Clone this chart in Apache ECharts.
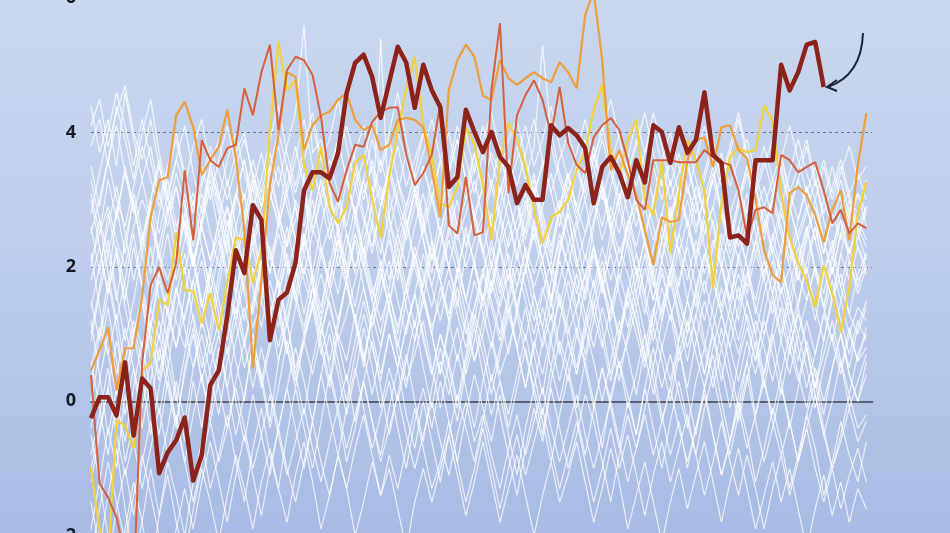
<!DOCTYPE html>
<html><head><meta charset="utf-8">
<script src="https://cdn.jsdelivr.net/npm/echarts@6/dist/echarts.min.js"></script>
<style>
html,body{margin:0;padding:0;overflow:hidden;width:950px;height:533px;}
body{background:linear-gradient(to bottom,#c9d8ef 0%,#bfcfec 45%,#a8bbe4 100%);position:relative;}
#c{position:absolute;left:0;top:-136px;width:950px;height:806px;}
</style>
</head><body><div id="c"></div>
<script>
// ---- data ----
const yMin = -4, yMax = 8, yStep = 2;
const highlightYear = [-0.25,0.06,0.06,-0.21,0.58,-0.51,0.34,0.19,-1.07,-0.76,-0.58,-0.24,-1.18,-0.80,0.24,0.46,1.28,2.25,1.91,2.92,2.70,0.91,1.51,1.62,2.06,3.14,3.41,3.41,3.32,3.70,4.59,5.04,5.16,4.83,4.22,4.75,5.28,5.04,4.37,5.01,4.63,4.38,3.19,3.34,4.34,4.01,3.71,4.01,3.64,3.49,2.95,3.22,3.00,3.00,4.11,3.96,4.07,3.96,3.77,2.95,3.49,3.64,3.40,3.04,3.59,3.26,4.11,4.01,3.55,4.08,3.70,3.89,4.60,3.67,3.55,2.44,2.47,2.35,3.59,3.59,3.59,5.01,4.63,4.90,5.31,5.35,4.68];
const redYear = [0.39,-1.22,-1.43,-1.73,-2.3,-2.8,0.57,1.73,2.0,1.61,2.06,3.44,2.40,3.89,3.59,3.49,3.77,3.82,4.66,4.26,4.90,5.31,4.04,4.93,5.13,5.08,4.86,4.23,3.25,2.97,3.44,3.82,3.79,4.16,4.31,4.37,4.38,3.67,3.22,3.40,3.67,4.44,2.62,2.50,3.34,2.47,2.52,4.63,5.63,3.10,4.26,4.56,4.78,4.49,3.96,4.68,3.85,3.52,3.40,3.93,4.11,4.22,4.04,3.59,3.00,2.85,3.59,3.59,3.59,3.56,3.56,3.56,3.74,3.64,3.56,3.52,3.14,2.44,2.85,2.89,2.80,3.67,3.59,3.41,3.49,3.56,3.14,2.65,2.85,2.50,2.65,2.58];
const orangeYear = [0.46,0.76,1.10,0.16,0.79,0.79,1.55,2.74,3.29,3.34,4.26,4.46,4.08,3.37,3.59,3.79,4.34,3.62,2.55,0.49,1.80,3.22,3.96,4.90,4.83,3.74,4.11,4.26,4.31,4.49,4.59,4.19,4.04,4.11,3.74,3.82,4.19,4.22,4.19,4.08,3.44,2.74,4.64,5.08,5.31,5.13,4.55,4.49,5.08,4.81,4.71,4.81,4.90,4.81,4.75,5.05,4.90,4.66,5.75,6.1,5.08,3.44,3.74,3.37,3.07,2.55,2.03,2.74,2.67,2.70,3.59,3.89,3.93,3.49,4.08,4.11,3.74,3.62,3.00,2.25,1.88,1.77,3.10,3.19,3.07,2.77,2.37,2.85,3.14,2.40,3.52,4.29];
const yellowYear = [-0.98,-1.92,-2.37,-0.28,-0.36,-0.70,0.46,0.57,1.51,1.43,2.52,1.65,1.65,1.16,1.61,1.06,1.76,2.44,2.40,1.76,2.25,4.04,5.35,4.63,4.78,3.52,3.14,3.79,2.89,2.65,2.89,3.55,3.67,3.00,2.44,3.34,4.04,4.66,5.13,4.11,3.64,2.95,2.89,3.19,4.08,3.82,3.22,2.40,3.59,4.14,3.89,3.49,2.85,2.35,2.74,2.82,3.00,3.44,3.74,4.34,4.71,3.74,3.37,3.89,4.19,3.00,2.77,3.59,2.21,3.10,3.89,3.59,3.14,1.68,2.95,3.64,3.77,3.71,3.74,4.41,4.16,3.10,2.44,2.06,1.80,1.40,2.03,1.61,1.03,1.70,2.80,3.26];

const w01 = [1.8,2.3,1.6,2.9,2.2,3.1,2.5,1.9,2.8,3.3,2.6,3.0,2.1,2.7,3.4,2.9,2.2,3.0,3.6,2.8,2.4,3.1,2.7,3.5,2.9,2.3,3.2,3.8,3.0,2.6,3.3,2.8,2.2,3.0,3.6,3.1,2.5,2.9,3.4,2.7,2.1,2.8,3.3,2.6,3.0,3.7,3.2,2.4,2.9,3.5,3.0,2.5,3.1,2.7,2.2,2.9,3.4,2.8,3.2,3.7,3.1,2.6,3.0,3.5,2.9,2.4,3.0,3.3,2.7,3.1,3.6,3.0,2.5,2.9,3.4,2.8,2.3,2.9,3.2,2.6,3.0,3.5,2.9,2.4,2.8,3.3,2.7,2.2,2.9,3.1,2.6,2.9];
const w02 = [-0.8,-0.2,0.5,-0.4,0.3,1.1,0.6,1.4,0.9,1.7,1.2,0.8,1.6,2.1,1.5,1.0,1.8,2.3,1.7,1.3,2.0,1.6,1.1,1.9,2.4,1.8,1.4,2.2,1.7,1.2,1.8,2.5,2.0,1.5,2.1,1.6,1.0,1.7,2.3,1.9,1.4,2.0,2.6,2.1,1.5,1.2,1.9,2.4,1.8,1.3,1.7,2.2,1.6,1.1,1.8,2.5,2.0,1.4,1.9,2.3,1.7,1.2,1.8,2.4,1.9,1.3,2.0,2.6,2.1,1.6,1.1,1.7,2.2,1.8,1.3,1.9,2.5,2.0,1.5,2.1,1.6,1.0,1.7,2.3,1.8,1.2,1.9,2.4,1.7,1.3,1.9,2.2];
const w03 = [1.2,0.4,-0.5,0.2,-0.9,-0.3,0.6,-0.1,0.8,0.2,-0.4,0.5,1.1,0.3,-0.2,0.7,1.3,0.6,0.0,0.9,0.4,-0.3,0.6,1.2,0.5,0.9,1.5,0.8,0.2,1.0,0.6,1.3,0.7,0.1,0.8,1.4,0.9,0.3,0.7,1.2,0.5,-0.1,0.6,1.1,0.4,0.9,1.6,1.0,0.4,0.8,1.3,0.7,0.2,0.9,1.5,0.8,0.3,1.0,0.6,1.2,1.8,1.1,0.5,0.9,1.4,0.7,0.1,0.8,1.3,0.6,1.0,1.6,0.9,0.4,1.1,0.5,-0.1,0.6,1.2,0.8,0.3,0.9,1.5,0.8,0.2,0.7,1.3,0.9,0.4,1.0,0.6,1.1];
const w04 = [3.8,4.2,3.5,4.4,3.9,3.3,4.0,4.5,3.7,3.1,3.6,4.1,3.4,2.8,3.5,3.9,3.2,3.7,4.0,3.3,2.9,3.4,3.8,3.1,3.6,4.2,3.5,3.0,3.4,3.9,3.3,3.7,4.1,3.4,2.9,3.3,3.8,3.2,3.6,4.0,3.5,3.0,3.4,3.9,3.3,2.8,3.2,3.7,3.4,3.9,4.2,3.6,3.1,3.5,3.8,3.3,2.9,3.4,3.9,3.5,3.0,3.5,4.0,3.6,3.2,3.7,4.1,3.5,3.0,3.4,3.8,3.3,2.8,3.3,3.7,3.2,3.6,3.9,3.4,2.9,3.3,3.7,3.1,3.5,3.9,3.3,2.8,3.2,3.6,3.1,3.4,3.0];
const w05 = [-1.5,-2.2,-1.4,-0.7,-1.6,-2.4,-1.8,-1.0,-1.7,-0.9,-1.4,-2.0,-1.2,-0.6,-1.3,-0.8,-0.2,-0.9,-1.5,-0.7,-0.1,-0.8,-1.3,-0.5,0.2,-0.4,-1.0,-0.3,0.4,-0.2,-0.9,-0.4,0.3,-0.3,-0.8,-0.1,0.5,-0.2,-0.7,0.0,-0.6,-1.2,-0.5,0.1,-0.4,-0.9,-0.3,0.4,-0.2,-0.8,-1.4,-0.7,-0.1,-0.6,0.2,-0.4,-1.0,-0.5,0.1,-0.3,-0.9,-1.5,-0.8,-0.2,-0.7,-0.1,0.5,-0.2,-0.8,-0.3,-1.0,-0.4,0.2,-0.5,-1.1,-0.6,0.0,-0.5,-1.2,-0.7,-0.1,-0.6,-1.3,-0.8,-0.2,-0.7,-1.4,-0.9,-0.3,-0.8,-1.2,-0.6];
const w06 = [2.6,1.9,2.8,2.2,1.5,2.3,1.7,1.1,1.9,2.5,1.8,2.4,3.0,2.3,1.6,2.2,2.9,2.1,2.6,3.2,2.5,1.9,2.7,2.1,1.6,2.4,3.0,2.3,1.7,2.5,2.0,2.7,3.3,2.6,2.0,2.4,1.8,2.5,3.1,2.4,1.9,2.6,2.0,1.4,2.2,2.8,2.3,1.7,2.4,3.0,2.5,1.9,2.6,2.1,1.5,2.3,2.9,2.4,1.8,2.6,3.2,2.5,2.0,2.7,2.2,1.6,2.3,2.8,2.2,1.7,2.4,3.0,2.3,1.8,2.5,2.1,1.5,2.2,2.7,2.1,1.6,2.3,2.9,2.4,1.9,2.6,2.0,1.5,2.2,2.8,2.3,2.0];
const w07 = [0.3,1.0,1.8,1.1,0.2,0.8,1.5,0.6,-0.2,0.5,1.3,2.0,1.2,0.5,1.1,1.9,2.5,1.6,0.9,1.4,2.1,1.3,0.6,1.2,0.4,1.0,1.7,0.9,0.3,1.1,1.8,1.2,0.5,1.3,2.0,1.4,0.7,0.2,0.9,1.6,1.0,0.4,1.2,1.9,1.3,0.6,1.0,1.7,2.3,1.5,0.8,1.4,0.7,0.1,0.9,1.6,1.1,0.5,1.2,1.8,1.1,0.4,1.0,1.7,1.2,0.6,1.3,2.0,1.4,0.8,0.2,0.9,1.5,1.0,0.3,1.1,1.7,1.2,0.6,1.3,1.9,1.2,0.7,1.4,0.8,0.2,0.9,1.6,1.0,0.5,1.1,1.5];
const w08 = [3.1,2.5,3.3,2.7,3.5,2.9,2.3,3.0,3.6,2.8,3.2,2.6,2.0,2.7,3.3,2.8,2.4,3.1,2.7,3.4,2.9,3.5,2.8,2.3,3.0,2.6,3.2,3.7,3.1,2.5,2.9,3.4,2.8,2.2,2.9,3.5,3.0,2.6,3.1,2.5,3.0,3.6,2.9,2.4,2.8,3.3,2.7,3.2,3.8,3.0,2.5,2.9,3.4,2.6,2.1,2.8,3.3,2.9,3.5,3.0,2.4,2.9,2.5,3.1,3.6,2.9,2.4,2.8,3.3,2.7,3.2,2.6,3.0,3.5,2.8,2.3,2.9,3.4,2.8,3.2,2.7,2.2,2.8,3.3,2.9,2.4,3.0,2.6,3.1,2.7,2.4,2.9];
const w09 = [2.2,1.4,0.7,1.3,0.5,-0.3,0.4,-0.5,0.2,0.9,0.1,-0.6,0.3,-0.4,0.5,1.0,0.2,-0.5,0.1,0.8,0.3,-0.4,0.2,0.9,0.4,-0.2,0.6,1.2,0.5,-0.1,0.4,-0.3,0.3,0.9,0.2,-0.5,0.1,0.7,0.0,-0.6,0.2,0.8,0.3,-0.3,0.5,1.1,0.4,-0.2,0.3,-0.4,0.2,0.8,0.1,-0.5,0.3,0.9,0.5,-0.1,0.6,0.0,-0.7,0.1,0.6,-0.1,0.4,1.0,0.3,-0.3,0.2,0.8,0.1,-0.5,0.2,0.7,0.0,-0.6,0.1,0.6,-0.2,0.4,1.0,0.3,-0.4,0.2,0.8,0.1,-0.5,0.0,0.6,-0.1,0.3,0.7];
const w10 = [-1.9,-1.2,-0.4,-1.0,0.1,-0.6,0.5,1.2,0.6,1.4,0.8,1.6,2.2,1.5,0.9,1.7,2.4,1.8,1.2,2.0,1.5,2.3,1.7,1.1,1.8,2.5,1.9,1.4,2.1,1.6,2.3,2.9,2.2,1.6,2.0,1.4,2.1,2.7,2.0,1.5,2.2,1.8,1.2,1.9,2.6,2.0,1.5,2.3,1.7,2.4,3.0,2.2,1.7,2.1,1.5,2.2,2.8,2.1,1.6,2.3,1.8,1.3,2.0,2.6,1.9,2.4,1.8,1.2,1.9,2.5,2.0,1.4,2.1,2.7,2.1,1.5,2.2,1.7,2.4,2.9,2.2,1.6,2.0,1.4,2.1,2.6,2.0,1.5,2.2,1.8,2.3,1.9];
const w11 = [4.1,4.5,3.8,4.3,4.7,4.0,3.6,4.2,3.5,3.0,3.6,3.2,3.8,4.2,3.5,3.0,3.6,4.0,3.4,2.9,3.3,3.9,4.4,3.7,3.2,3.8,4.3,3.6,3.9,4.5,3.8,3.2,3.6,4.1,3.5,4.0,4.6,3.9,3.3,3.7,4.2,3.6,3.1,3.5,4.0,3.4,3.9,4.3,3.7,3.2,3.6,4.1,3.5,3.9,4.4,3.8,3.3,3.7,4.2,3.6,4.0,4.5,3.9,3.4,3.8,4.3,3.7,3.2,3.6,4.1,3.5,3.0,3.4,3.9,3.3,3.7,4.2,3.6,3.1,3.5,3.9,3.4,2.9,3.3,3.8,3.2,3.6,3.1,3.5,3.0,2.8,3.3];
const w12 = [1.5,0.9,1.6,2.3,1.7,1.0,0.4,1.1,1.8,1.3,2.0,2.7,2.1,1.4,2.0,1.5,0.9,1.6,2.2,1.7,1.1,1.8,1.3,0.7,1.4,2.0,1.5,1.0,1.6,2.2,1.7,1.2,0.6,1.3,1.9,1.4,0.8,1.5,2.1,1.6,1.0,1.7,1.2,0.6,1.2,1.8,1.3,0.8,1.5,2.0,1.4,0.9,1.6,1.1,0.5,1.2,1.8,1.3,0.7,1.4,2.0,1.5,0.9,1.6,1.2,0.6,1.3,1.9,1.4,0.9,1.5,1.0,0.4,1.1,1.7,1.2,0.7,1.3,0.8,0.2,0.9,1.4,0.8,0.3,0.9,0.4,-0.2,0.5,1.0,0.4,0.0,0.6];
const w13 = [-0.5,-1.2,-2.0,-2.6,-1.9,-1.2,-1.8,-2.5,-1.7,-1.1,-1.8,-2.3,-1.6,-1.0,-1.5,-2.1,-1.4,-0.8,-1.3,-1.9,-1.2,-0.7,-1.3,-1.8,-1.1,-0.6,-1.2,-1.9,-1.4,-0.8,-1.3,-2.0,-1.5,-0.9,-1.4,-1.0,-1.6,-2.2,-1.5,-1.0,-1.5,-1.0,-0.5,-1.1,-1.7,-1.2,-0.6,-1.2,-1.8,-1.3,-0.8,-1.4,-2.0,-1.4,-0.9,-1.5,-1.1,-0.6,-1.2,-1.8,-1.3,-0.7,-1.2,-1.9,-1.4,-0.9,-1.5,-2.1,-1.5,-1.0,-1.6,-1.1,-0.6,-1.2,-1.8,-1.2,-0.7,-1.3,-1.9,-1.4,-0.9,-1.5,-1.0,-1.6,-2.2,-1.6,-1.1,-1.7,-1.2,-1.8,-1.3,-1.6];
const w14 = [0.9,1.6,2.2,1.5,2.4,3.0,2.2,1.6,2.3,2.9,2.1,2.7,2.0,2.6,3.2,2.5,1.9,2.6,3.1,2.3,2.8,2.2,1.7,2.4,2.9,2.2,2.7,3.3,2.6,2.0,2.5,1.9,2.6,3.2,2.4,1.8,2.5,2.0,2.6,3.1,2.4,1.9,2.5,3.0,2.3,2.8,2.2,1.6,2.3,2.7,2.1,2.6,3.2,2.5,1.9,2.4,2.0,2.6,3.0,2.3,1.8,2.5,3.1,2.4,2.9,2.3,1.7,2.4,2.9,2.2,2.7,2.1,1.6,2.3,2.8,2.2,2.6,3.1,2.5,1.9,2.4,2.9,2.3,1.8,2.5,3.0,2.4,1.9,2.5,2.2,2.7,2.4];
const w15 = [-2.6,-1.9,-2.4,-1.6,-1.0,-1.7,-0.9,-0.3,-1.0,-0.4,0.3,-0.3,0.5,1.0,0.4,-0.2,0.6,1.2,0.5,1.0,0.3,0.9,1.5,0.8,0.2,0.9,1.4,0.7,1.2,0.6,0.0,0.7,1.3,0.8,0.3,1.0,0.5,1.1,1.6,0.9,0.4,1.0,0.6,0.0,0.7,1.3,0.9,0.3,0.8,1.4,0.8,0.2,0.9,0.4,1.0,1.5,0.9,0.4,1.1,0.6,0.0,0.6,1.2,0.7,0.1,0.8,1.4,0.8,0.3,0.9,1.5,1.0,0.4,1.0,0.5,-0.1,0.6,1.1,0.6,1.2,0.7,0.1,0.8,1.3,0.8,0.2,0.7,1.2,0.6,0.1,0.7,1.0];
const w16 = [3.5,2.9,3.6,4.1,3.4,2.8,3.3,2.7,2.1,2.8,3.4,2.9,2.3,2.9,3.5,3.0,2.5,3.1,2.6,3.2,3.7,3.1,2.6,3.2,3.8,3.2,2.7,3.3,2.8,2.2,2.9,3.5,3.0,3.6,3.1,2.5,3.1,3.7,3.2,2.7,3.3,2.8,3.4,3.9,3.3,2.7,3.2,2.6,3.1,3.6,3.0,2.4,3.0,3.6,3.1,2.6,3.2,2.7,3.3,3.8,3.2,2.7,3.3,2.8,2.3,2.9,3.5,3.0,3.6,3.1,2.6,3.2,2.8,3.4,2.9,2.4,3.0,3.5,2.9,2.4,3.0,3.6,3.1,2.7,3.2,2.7,2.2,2.8,3.3,2.8,3.1,2.6];
const w17 = [2.0,2.7,1.9,1.2,1.8,2.5,1.7,2.3,1.5,0.9,1.6,2.2,1.6,1.1,1.9,2.4,1.8,1.3,2.0,2.6,1.9,1.3,1.8,1.2,1.9,2.5,1.8,1.3,2.0,2.6,2.0,1.4,2.1,1.5,1.0,1.7,2.3,1.7,1.1,1.8,2.4,1.8,1.3,2.0,1.5,2.1,2.7,2.0,1.4,1.9,1.3,2.0,2.5,1.9,1.4,2.1,1.6,1.0,1.7,2.3,1.7,2.2,1.6,1.1,1.8,2.4,1.9,1.3,2.0,1.5,1.0,1.6,2.2,1.7,2.3,1.8,1.2,1.9,2.4,1.8,1.3,2.0,1.5,2.1,2.6,1.9,1.4,2.0,1.5,2.1,1.7,2.2];
const w18 = [0.6,-0.1,-0.8,0.0,-0.6,0.2,0.9,0.1,-0.5,0.3,-0.3,-0.9,-0.2,0.4,-0.3,0.3,0.8,0.0,-0.6,0.1,-0.5,-1.1,-0.4,0.2,-0.4,-1.0,-0.3,0.4,-0.2,-0.8,-0.1,0.5,-0.1,-0.7,-0.2,0.3,-0.4,-1.0,-0.3,0.2,-0.4,0.3,-0.3,-0.9,-0.2,0.4,-0.1,-0.6,0.1,-0.5,-1.1,-0.4,0.2,-0.3,-0.9,-0.2,0.4,-0.2,-0.8,-0.1,0.5,-0.1,-0.7,0.0,-0.5,0.2,-0.4,-1.0,-0.3,0.3,-0.3,-0.8,-0.1,0.4,-0.2,-0.8,-0.2,0.4,-0.3,-0.9,-0.4,0.2,-0.3,-0.9,-0.2,0.3,-0.4,-1.0,-0.5,0.1,-0.4,-0.2];
const w19 = [1.4,2.0,2.6,3.2,2.5,1.8,2.4,3.0,2.5,3.1,2.4,1.9,2.6,3.1,2.5,2.0,2.7,2.2,2.8,3.3,2.7,2.1,2.6,3.1,2.4,1.9,2.5,3.0,2.4,2.9,3.4,2.7,2.1,2.7,2.2,2.8,3.3,2.7,2.1,2.6,3.1,2.5,2.0,2.6,3.2,2.7,2.2,2.8,2.3,1.8,2.5,3.0,2.4,2.9,3.4,2.8,2.3,2.7,2.1,2.7,3.2,2.6,2.0,2.6,3.1,2.5,3.0,2.4,1.9,2.5,3.0,2.5,3.1,2.6,2.0,2.6,2.1,2.7,3.2,2.7,2.2,2.8,2.3,1.8,2.4,2.9,2.4,1.9,2.5,3.0,2.5,2.1];
const w20 = [-2.3,-1.6,-0.9,-1.5,-2.1,-1.4,-0.8,-1.4,-2.0,-2.6,-1.9,-1.3,-1.9,-1.2,-0.6,-1.2,-1.8,-1.1,-0.5,-1.1,-1.7,-1.0,-0.4,-1.0,-1.5,-0.9,-0.3,-0.9,-1.4,-0.8,-1.3,-0.7,-0.2,-0.8,-1.4,-0.8,-1.3,-0.7,-0.1,-0.7,-1.3,-0.9,-0.3,-0.9,-1.5,-1.0,-0.4,-1.0,-1.6,-1.0,-0.5,-1.1,-0.6,-0.1,-0.7,-1.3,-0.8,-0.3,-0.9,-1.5,-1.0,-0.4,-1.0,-0.5,-1.1,-1.7,-1.1,-0.6,-1.2,-0.7,-0.2,-0.8,-1.4,-0.9,-0.3,-0.9,-1.4,-0.8,-1.3,-1.9,-1.3,-0.8,-1.4,-0.9,-0.4,-1.0,-1.5,-1.0,-1.6,-1.1,-0.7,-1.2];
const w21 = [3.0,2.3,1.6,2.2,1.4,0.8,1.5,0.9,0.3,1.0,1.7,1.1,0.5,1.2,1.9,1.3,0.7,1.4,0.8,1.5,2.1,1.4,0.8,1.4,2.0,3.4,1.8,1.1,0.6,1.2,1.8,1.2,0.6,1.3,0.8,1.5,2.1,1.4,0.9,1.5,1.0,0.4,1.1,1.7,1.1,0.6,1.2,1.8,1.3,0.7,1.4,2.0,1.4,0.8,1.3,0.7,1.3,1.9,1.3,0.8,1.4,0.9,0.3,1.0,1.6,1.0,0.5,1.2,1.8,1.2,0.6,1.3,0.8,1.4,2.0,1.4,0.9,1.5,1.0,0.4,1.1,1.7,1.2,0.6,1.2,0.7,1.3,1.8,1.2,0.7,1.2,0.9];
const w22 = [2.8,3.4,4.0,4.6,4.1,3.5,4.2,3.6,3.0,3.5,4.0,3.4,2.9,3.5,3.0,3.6,4.1,3.5,3.0,3.6,3.1,3.7,3.2,3.8,4.3,5.6,3.7,3.9,3.4,3.9,3.3,2.8,3.3,3.9,3.4,3.9,3.3,2.9,3.4,4.0,3.5,3.0,3.5,4.1,3.6,3.1,3.7,3.2,2.7,3.3,3.8,3.3,3.8,5.3,4.0,3.4,3.0,3.5,3.1,3.6,4.1,3.5,3.0,3.6,4.2,3.7,4.3,3.8,3.2,3.7,3.2,2.8,3.3,3.8,3.3,3.8,4.3,3.7,3.2,3.6,3.1,3.6,4.1,3.6,3.1,3.5,3.0,3.5,3.0,2.6,3.1,2.8];
const w23 = [4.4,3.7,4.2,3.5,4.6,3.9,3.3,3.8,3.1,2.6,3.2,2.5,2.0,2.6,2.1,2.7,2.2,1.6,2.3,1.8,2.4,1.9,2.5,2.0,1.5,2.2,1.7,2.3,1.8,2.4,1.9,2.5,2.0,2.6,5.4,2.7,2.1,1.6,2.2,1.7,2.3,1.8,2.4,1.9,2.5,2.1,1.5,2.1,1.6,2.2,1.7,2.3,1.9,2.4,1.9,1.4,2.0,1.6,2.2,1.7,2.3,1.8,2.3,1.9,1.4,2.0,1.5,2.1,1.7,2.3,1.8,2.4,1.9,2.4,2.0,1.5,2.1,1.6,2.2,1.8,2.3,1.9,2.4,1.9,1.5,2.0,1.6,2.2,1.7,2.3,1.8,2.0];
const w24 = [0.0,0.7,1.4,0.6,-0.2,0.5,-0.4,0.3,1.0,0.4,-0.3,0.4,1.0,0.3,0.9,0.2,-0.4,0.3,0.9,0.2,0.8,0.2,-0.4,0.2,0.8,0.3,-0.3,0.4,1.0,0.4,-0.2,0.4,1.1,0.5,-0.1,0.5,0.0,0.6,1.2,0.5,-0.1,0.6,0.1,0.7,0.2,-0.4,0.3,0.9,0.3,-0.2,0.4,1.0,0.4,-0.2,0.5,0.0,0.6,1.1,0.5,-0.1,0.5,0.0,0.6,0.1,-0.5,0.2,0.8,0.2,0.7,0.1,-0.4,0.3,0.8,0.2,0.8,0.3,-0.3,0.3,0.9,0.3,-0.2,0.4,1.0,0.4,-0.1,0.5,0.0,0.5,1.0,0.4,0.0,0.4];
const w25 = [2.1,2.5,2.9,2.4,2.0,2.6,3.0,2.7,2.2,1.8,2.3,2.8,3.1,2.6,2.1,2.5,2.9,2.4,1.9,2.4,2.9,3.3,2.8,2.3,2.7,3.1,2.6,2.2,2.6,3.0,2.5,2.0,2.4,2.9,3.2,2.7,2.3,2.8,3.2,2.6,2.1,2.5,3.0,2.5,2.0,2.4,2.8,3.3,2.8,2.3,2.7,3.1,2.6,2.1,2.6,3.0,2.5,2.0,2.5,2.9,3.3,2.7,2.2,2.6,3.0,2.4,1.9,2.4,2.8,3.2,2.6,2.1,2.5,2.9,2.3,2.8,3.2,2.7,2.2,2.6,3.0,2.5,2.0,2.5,2.9,2.4,1.9,2.3,2.7,2.2,2.6,2.3];
const w26 = [0.5,1.1,0.7,0.1,0.6,1.2,0.8,1.4,1.9,1.3,0.8,1.3,1.8,1.2,0.7,1.2,1.7,2.2,1.6,1.1,1.5,1.0,1.6,2.1,1.5,1.0,1.4,1.9,1.4,0.9,1.3,1.8,2.3,1.7,1.2,1.6,1.1,1.7,2.2,1.6,1.1,1.5,2.0,1.5,1.0,1.4,1.9,1.4,0.9,1.5,2.0,1.5,1.0,1.6,2.1,1.5,1.0,1.4,1.9,1.3,0.8,1.4,1.9,1.4,2.0,1.5,0.9,1.4,1.9,1.3,0.8,1.3,1.8,1.3,0.8,1.4,1.9,1.5,1.0,1.6,2.1,1.5,1.0,1.5,2.0,1.4,0.9,1.5,1.9,1.3,1.0,1.4];
const w27 = [2.5,3.0,3.6,3.0,2.6,3.2,3.8,3.3,2.9,3.4,3.9,3.3,2.8,3.3,3.8,3.4,3.0,3.5,3.9,3.4,3.0,3.5,4.0,3.5,3.1,3.6,4.1,3.6,3.2,3.7,4.1,3.6,3.1,3.5,3.0,3.5,4.0,3.6,3.1,3.5,3.0,3.6,4.0,3.4,3.0,3.5,4.1,3.6,3.1,3.6,3.2,3.7,4.2,3.6,3.1,3.6,4.0,3.5,3.0,3.4,3.9,3.4,2.9,3.4,3.9,3.5,3.0,3.6,4.0,3.5,3.1,3.6,4.1,3.6,3.2,3.7,3.2,2.8,3.3,3.8,3.3,2.9,3.4,3.9,3.4,3.0,3.5,3.0,3.4,3.8,3.3,3.5];
const w28 = [-1.0,-0.4,0.2,-0.5,-1.1,-0.6,-1.3,-0.7,-0.1,-0.8,-0.2,-0.9,-1.5,-0.9,-0.3,-0.9,-0.4,0.2,-0.4,-1.0,-0.5,0.1,-0.5,-1.1,-0.6,-0.1,-0.7,-1.2,-0.6,-0.1,-0.7,-0.2,0.3,-0.3,-0.9,-0.4,0.1,-0.5,-1.0,-0.5,0.0,-0.6,-1.1,-0.5,0.0,-0.6,-0.2,-0.8,-1.3,-0.7,-0.2,-0.8,-0.3,0.2,-0.4,-0.9,-0.4,0.1,-0.5,-1.0,-0.5,0.0,-0.6,-1.2,-0.7,-0.2,-0.8,-0.3,0.2,-0.4,-0.9,-0.4,0.1,-0.5,-1.1,-0.6,-0.1,-0.7,-0.2,0.3,-0.3,-0.8,-0.3,-0.9,-0.4,0.1,-0.5,-1.0,-0.6,-0.1,-0.6,-0.3];
const w29 = [1.0,1.7,2.4,1.6,0.9,1.5,2.2,2.9,2.2,1.5,2.1,2.8,2.1,1.4,2.0,2.7,3.3,2.6,1.9,2.5,1.8,1.2,1.9,2.6,2.0,1.3,1.9,2.6,3.2,2.5,1.8,2.4,1.7,1.1,1.8,2.5,1.9,2.6,3.1,2.4,1.7,2.3,2.9,2.2,1.5,2.1,1.4,2.0,2.7,2.1,1.4,2.0,2.7,2.1,1.5,2.2,2.8,2.1,1.5,2.2,1.6,2.3,2.9,2.3,1.6,2.2,1.5,2.1,2.8,2.2,1.5,2.1,2.7,2.0,1.4,2.0,2.6,2.0,1.3,1.9,2.5,1.9,1.3,2.0,2.6,2.0,1.4,2.1,2.7,2.1,1.6,2.0];
const w30 = [-0.4,0.3,1.0,0.4,1.1,0.5,-0.1,0.6,1.2,0.6,0.0,0.7,1.3,0.7,0.1,0.8,0.2,0.9,1.4,0.8,0.2,0.8,1.4,0.8,0.3,0.9,0.4,1.0,1.5,0.9,0.3,0.9,1.5,1.0,0.4,1.0,0.5,1.1,1.6,1.0,0.4,1.0,0.5,-0.1,0.6,1.2,0.7,0.1,0.7,1.3,0.8,0.2,0.8,1.4,0.9,0.3,0.9,0.4,1.0,1.5,0.9,0.3,0.9,1.5,1.0,0.5,1.1,0.6,0.0,0.7,1.2,0.7,0.2,0.8,1.3,0.8,0.3,0.9,0.4,1.0,1.5,0.9,0.4,1.0,0.5,-0.1,0.5,1.0,0.5,1.1,0.6,0.8];
const w31 = [3.3,2.7,2.2,2.8,3.4,2.9,2.4,3.0,3.5,3.0,2.5,3.1,2.6,3.2,3.7,3.1,2.6,3.1,3.6,3.0,2.5,3.0,3.5,2.9,2.4,3.0,2.5,3.1,3.6,3.1,2.6,3.2,2.7,2.3,2.9,3.4,2.9,2.4,2.9,3.5,3.0,2.5,3.1,2.6,3.2,3.7,3.1,2.6,3.2,2.7,2.2,2.8,3.3,2.8,2.3,2.9,3.4,2.9,2.5,3.1,2.6,3.2,3.7,3.1,2.6,3.1,2.6,2.1,2.7,3.2,2.7,2.2,2.8,3.3,2.8,2.4,3.0,3.5,3.0,2.5,3.1,2.6,2.1,2.7,3.2,2.7,2.2,2.8,2.4,2.9,2.5,2.8];
const w32 = [-1.2,-0.5,0.2,0.9,0.3,1.0,1.6,1.0,0.4,1.1,1.7,1.2,1.8,2.3,1.7,1.1,1.7,1.2,1.8,2.3,1.7,1.1,1.6,2.2,1.6,1.1,1.7,1.2,1.8,2.4,1.8,1.2,1.7,1.1,1.6,2.1,1.5,1.0,1.6,2.2,1.7,1.2,1.8,1.3,0.8,1.4,2.0,1.5,1.0,1.6,2.2,1.7,1.2,1.7,1.2,1.8,2.3,1.7,1.1,1.6,2.1,1.5,1.0,1.6,2.2,1.6,1.1,1.7,1.2,1.8,2.3,1.7,1.2,1.8,1.3,0.8,1.4,1.9,1.4,1.0,1.6,2.1,1.5,1.0,1.5,2.0,1.4,0.9,1.5,1.0,1.4,1.2];
const otherYears = [w01,w02,w03,w04,w05,w06,w07,w08,w09,w10,w11,w12,w13,w14,w15,w16,w17,w18,w19,w20,w21,w22,w23,w24,w25,w26,w27,w28,w29,w30,w31,w32];

// ---- chart ----
const OFFSET = 136; // the chart canvas starts 136px above the visible window
const chart = echarts.init(document.getElementById('c'), null, {renderer: 'canvas'});
const pts = arr => arr.map((v, i) => [i, v]);
const series = [];
otherYears.forEach(arr => series.push({
  type: 'line', data: pts(arr), symbol: 'none', silent: true,
  lineStyle: {color: 'rgba(255,255,255,0.75)', width: 1.2}
}));
series.push({type: 'line', data: pts(yellowYear), symbol: 'none', lineStyle: {color: '#f3d13a', width: 2.2}});
series.push({type: 'line', data: pts(orangeYear), symbol: 'none', lineStyle: {color: '#ef9e3e', width: 2.2}});
series.push({type: 'line', data: pts(redYear), symbol: 'none', lineStyle: {color: '#d65f3c', width: 2}});
series.push({type: 'line', data: pts(highlightYear), symbol: 'none', lineStyle: {color: '#8c2219', width: 4.5, join: 'round'}});

chart.setOption({
  animation: false,
  grid: {left: 91, right: 77.7, top: 0, bottom: 0, containLabel: false, outerBoundsMode: 'none'},
  xAxis: {
    type: 'value', min: 0, max: 91.7,
    axisLine: {show: true, onZero: true, lineStyle: {color: '#5b6272', width: 2}},
    axisTick: {show: false}, axisLabel: {show: false}, splitLine: {show: false}
  },
  yAxis: {
    type: 'value', min: yMin, max: yMax, interval: yStep,
    axisLine: {show: false}, axisTick: {show: false},
    axisLabel: {margin: 15, color: '#141a24', fontSize: 18, fontWeight: 'bold', fontFamily: 'Open Sans'},
    splitLine: {show: true, lineStyle: {color: '#6f7a8c', type: [3, 3], width: 1}}
  },
  series: series,
  graphic: [
    {type: 'bezierCurve', shape: {x1: 863, y1: 33 + OFFSET, cpx1: 862, cpy1: 63 + OFFSET, cpx2: 848, cpy2: 80 + OFFSET, x2: 828, y2: 87 + OFFSET},
     style: {stroke: '#1c2536', lineWidth: 2, fill: null}, z: 100},
    {type: 'polyline', shape: {points: [[837, 80 + OFFSET], [827, 87 + OFFSET], [837, 91 + OFFSET]]},
     style: {stroke: '#1c2536', lineWidth: 2, fill: null}, z: 100}
  ]
});
</script>
</body></html>
